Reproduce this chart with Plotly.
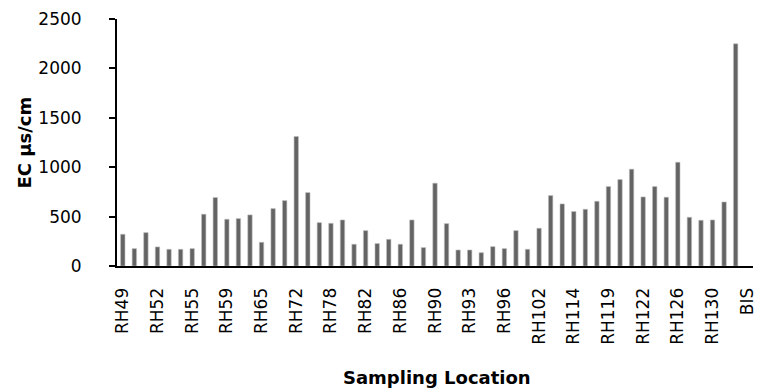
import plotly.graph_objects as go

# tick labels shown every third category; BIS is the last category
tick_labels = ["RH49", "RH52", "RH55", "RH59", "RH65", "RH72", "RH78", "RH82", "RH86",
               "RH90", "RH93", "RH96", "RH102", "RH114", "RH119", "RH122", "RH126",
               "RH130", "BIS"]
tick_positions = [0, 3, 6, 9, 12, 15, 18, 21, 24, 27, 30, 33, 36, 39, 42, 45, 48, 51, 54]

# EC values (µs/cm), one per sampling location slot (55 slots, last has no bar)
ec_values = [321, 176, 338, 193, 169, 169, 176, 524, 693, 473,
             480, 517, 240, 581, 662, 1311, 743, 439, 432, 466,
             220, 358, 227, 270, 220, 466, 186, 838, 429, 162,
             162, 135, 196, 176, 358, 169, 382, 713, 628, 551,
             574, 655, 804, 875, 980, 699, 804, 696, 1050, 493,
             463, 466, 648, 2249, None]

y_ticks = [0, 500, 1000, 1500, 2000, 2500]

positions = list(range(len(ec_values)))

FONT = "DejaVu Sans"
L, R, T, B = 117, 5, 19, 126
W, H = 758, 392
PW = W - L - R
PH = H - T - B

fig = go.Figure(go.Bar(
    x=positions, y=ec_values,
    marker=dict(color="#646464", line=dict(color="#bdbdbd", width=0.6)),
    width=0.38,
))

fig.update_layout(
    width=W, height=H,
    margin=dict(l=L, r=R, t=T, b=B),
    paper_bgcolor="white", plot_bgcolor="white",
    showlegend=False,
    font=dict(family=FONT, size=17, color="black"),
)

fig.update_xaxes(
    range=[-0.5, len(ec_values) - 0.5],
    tickmode="array", tickvals=tick_positions, ticktext=tick_labels,
    tickangle=-90, showline=True, linecolor="black", linewidth=2,
    ticks="", showgrid=False, zeroline=False, ticklabelstandoff=13,
    ticklabeloverflow="allow", automargin=False,
    tickfont=dict(family=FONT, size=17),
)

fig.update_yaxes(
    range=[0, 2500], tickvals=y_ticks,
    showline=True, linecolor="black", linewidth=2,
    ticks="outside", ticklen=6, tickwidth=2, tickcolor="black",
    showgrid=False, zeroline=False, ticklabelstandoff=24,
    automargin=False,
    tickfont=dict(family=FONT, size=17),
)

fig.add_annotation(
    text="<b>EC µs/cm</b>", xref="paper", yref="paper",
    x=(24 - L) / PW, y=0.5, textangle=-90, showarrow=False,
    font=dict(family=FONT, size=18, color="black"),
    xanchor="center", yanchor="middle",
)
fig.add_annotation(
    text="<b>Sampling Location</b>", xref="paper", yref="paper",
    x=(437 - L) / PW, y=-(377 - (T + PH)) / PH, showarrow=False,
    font=dict(family=FONT, size=18, color="black"),
    xanchor="center", yanchor="middle",
)

fig.write_html(
    "out.html",
    config={"displayModeBar": False},
    post_script="document.body.style.margin='0';document.body.style.padding='0';",
)
